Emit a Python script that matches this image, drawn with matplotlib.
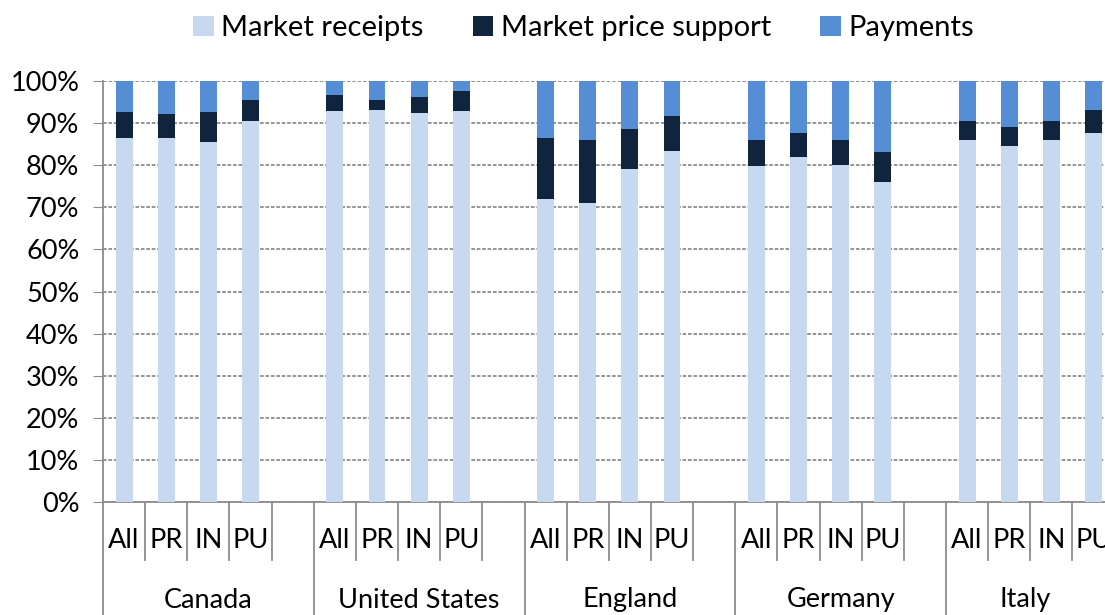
import matplotlib
matplotlib.use("Agg")
import matplotlib.pyplot as plt
import matplotlib.transforms as mtransforms

plt.rcParams['font.family'] = ['Lato', 'DejaVu Sans']

countries = ['Canada', 'United States', 'England', 'Germany', 'Italy']
types = ['All', 'PR', 'IN', 'PU']

# shares in percent
receipts = [86.4, 86.4, 85.5, 90.5,
            92.8, 93.2, 92.3, 92.8,
            72.0, 71.0, 79.2, 83.3,
            79.7, 81.9, 80.0, 76.0,
            85.9, 84.6, 85.9, 87.7]
price_support = [6.3, 5.8, 7.2, 4.9,
                 3.9, 2.2, 4.0, 4.9,
                 14.4, 14.9, 9.5, 8.5,
                 6.2, 5.8, 5.9, 7.2,
                 4.5, 4.5, 4.5, 5.5]
payments = [7.3, 7.8, 7.3, 4.6,
            3.3, 4.6, 3.7, 2.3,
            13.6, 14.1, 11.3, 8.2,
            14.1, 12.3, 14.1, 16.8,
            9.6, 10.9, 9.6, 6.8]

c_light = '#C6D9F1'
c_dark = '#10243E'
c_mid = '#558ED5'
fs = 19.5

fig = plt.figure(figsize=(11.05, 6.15), dpi=100)
ax = fig.add_axes([103/1105, 1-502/615, 1-103/1105, 421/615])

xs = [g*5 + j + 0.5 for g in range(len(countries)) for j in range(len(types))]
mid_bottom = [r + p for r, p in zip(receipts, price_support)]
ax.bar(xs, receipts, width=0.4, color=c_light, label='Market receipts', zorder=3)
ax.bar(xs, price_support, width=0.4, bottom=receipts, color=c_dark, label='Market price support', zorder=3)
ax.bar(xs, payments, width=0.4, bottom=mid_bottom, color=c_mid, label='Payments', zorder=3)

xmax = (1105-103)/42.15
ax.set_xlim(0, xmax)
ax.set_ylim(0, 100)
ax.set_yticks(range(0, 101, 10))
ax.set_yticklabels([f'{v}%' for v in range(0, 101, 10)], fontsize=fs)
ax.yaxis.grid(True, linestyle=(0, (2, 1)), color='#8c8c8c', linewidth=1.3, zorder=0)
ax.set_axisbelow(True)
ax.tick_params(axis='y', length=7, color='#8c8c8c', pad=10)
ax.set_xticks([])
for s in ['top', 'right']:
    ax.spines[s].set_visible(False)
ax.spines['left'].set_color('#8c8c8c')
ax.spines['left'].set_linewidth(1.3)
ax.spines['bottom'].set_color('#8c8c8c')
ax.spines['bottom'].set_linewidth(1.3)

# two-level category axis
trans = mtransforms.blended_transform_factory(ax.transData, ax.transAxes)
y_short = -58/421
y_long = -113/421
for g in range(len(countries) + 1):
    for j in range(5):
        x = g*5 + j
        if x > xmax:
            continue
        y_end = y_long if j == 0 else y_short
        ax.plot([x, x], [0, y_end], transform=trans, color='#8c8c8c', lw=1.3, clip_on=False)
for g, name in enumerate(countries):
    for j, t in enumerate(types):
        ax.text(g*5 + j + 0.5, -38/421, t, transform=trans, ha='center', va='center',
                fontsize=fs, clip_on=False)
    cx = g*5 + 2.5 if g*5 + 5 <= xmax else (g*5 + xmax) / 2
    ax.text(cx, -98/421, name, transform=trans, ha='center', va='center', fontsize=fs)

fig.legend(loc='center', bbox_to_anchor=(0.528, 1-28/615), ncol=3, frameon=False,
           fontsize=21, handlelength=0.7, handleheight=0.7, handletextpad=0.25,
           columnspacing=1.7, borderpad=0)

fig.savefig('out.png', dpi=100)
